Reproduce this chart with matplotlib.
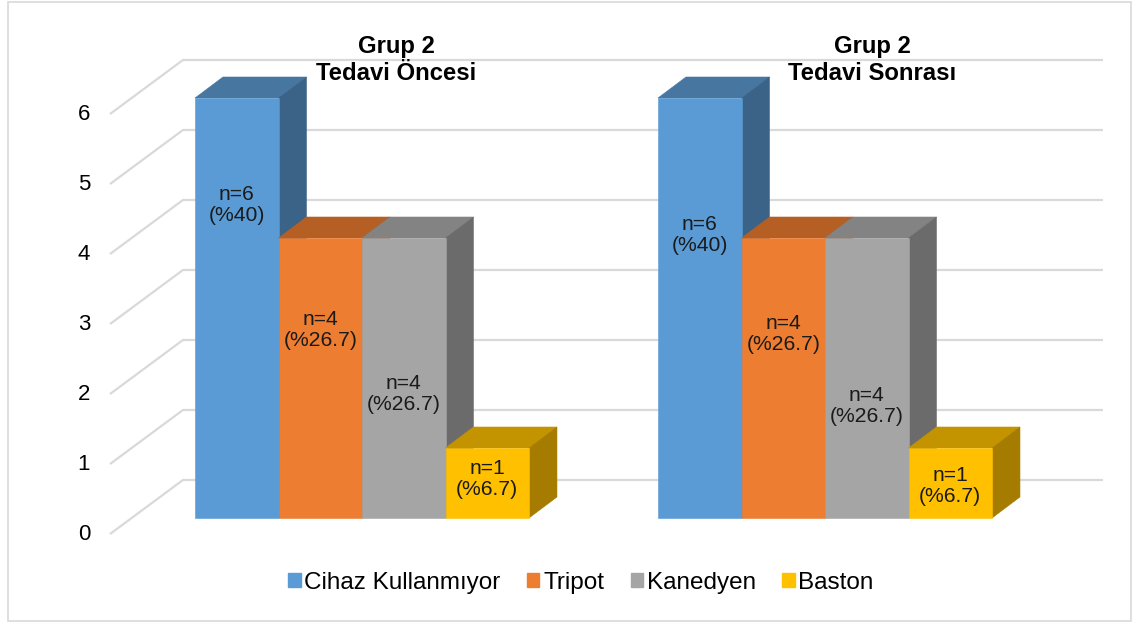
import matplotlib
matplotlib.use("Agg")
import matplotlib.pyplot as plt
from matplotlib.patches import Polygon, Rectangle, Patch

plt.rcParams['font.family'] = ['Liberation Sans', 'DejaVu Sans']

# data
series = ['Cihaz Kullanmıyor', 'Tripot', 'Kanedyen', 'Baston']
groups = ['Grup 2\nTedavi Öncesi', 'Grup 2\nTedavi Sonrası']
counts_pre = [6, 4, 4, 1]
counts_post = [6, 4, 4, 1]
percent_pre = [40, 26.7, 26.7, 6.7]
percent_post = [40, 26.7, 26.7, 6.7]
yticks = [0, 1, 2, 3, 4, 5, 6]

# colours: front, top, side
front = ['#5B9BD5', '#ED7D31', '#A5A5A5', '#FFC000']
top = ['#4776A1', '#B65F24', '#838383', '#C49300']
side = ['#3B6388', '#9A4F1D', '#6B6B6B', '#A67C00']

# layout (units: bar widths on x, values on y)
GAP = 5.545          # distance between the two groups
DX, DY = 0.335, 0.30  # depth of one bar
label_y = [[4.47, 2.69, 1.77, 0.56], [4.04, 2.63, 1.60, 0.46]]
title_x = [2.413, 8.114]

fig = plt.figure(figsize=(11.38, 6.24), dpi=100)
ax = fig.add_axes([0, 0, 1, 1])
ax.set_xlim(-195 / 83.5, (1138 - 195) / 83.5)
ax.set_ylim((518 - 624) / 70, 518 / 70)
ax.axis('off')

# outer frame
fig.patches.append(Rectangle((8 / 1138, 3 / 624), 1123 / 1138, 619 / 624,
                             transform=fig.transFigure, fill=False,
                             edgecolor='#d9d9d9', linewidth=1.2))

# floor-to-wall gridlines in perspective
for v in yticks:
    ax.plot([-1.018, -0.144, 10.874], [v - 0.229, v + 0.543, v + 0.543],
            color='#d9d9d9', lw=1.6, zorder=1, solid_capstyle='butt')
    ax.text(-1.257, v - 0.229, str(v), ha='right', va='center',
            fontsize=16, color='black')

all_counts = [counts_pre, counts_post]
all_pct = [percent_pre, percent_post]

for g in range(2):
    lefts = [g * GAP + i for i in range(len(series))]
    for i, (x0, v) in enumerate(zip(lefts, all_counts[g])):
        z = 2 + i * 0.1
        ax.bar(x0, v, width=1, align='edge', color=front[i],
               edgecolor=front[i], linewidth=0.4, zorder=z + 0.03)
        ax.add_patch(Polygon([(x0, v), (x0 + 1, v), (x0 + 1 + DX, v + DY),
                              (x0 + DX, v + DY)], closed=True,
                             facecolor=top[i], edgecolor=top[i],
                             linewidth=0.4, zorder=z + 0.01))
        ax.add_patch(Polygon([(x0 + 1, 0), (x0 + 1, v), (x0 + 1 + DX, v + DY),
                              (x0 + 1 + DX, DY)], closed=True,
                             facecolor=side[i], edgecolor=side[i],
                             linewidth=0.4, zorder=z + 0.02))
        ax.text(x0 + 0.5, label_y[g][i],
                f"n={v}\n(%{all_pct[g][i]:g})", ha='center', va='center',
                fontsize=15.2, color='#1a1a1a', linespacing=1.15, zorder=5)
    ax.text(title_x[g], 6.54, groups[g], ha='center', va='center',
            fontsize=17.2, fontweight='bold', color='black',
            linespacing=1.22, zorder=5)

handles = [Patch(facecolor=c, edgecolor=c) for c in front]
fig.legend(handles, series, loc='center', ncol=4, frameon=False,
           bbox_to_anchor=(581 / 1138, 1 - 583 / 624), fontsize=17.5,
           handlelength=0.5, handleheight=0.5, handletextpad=0.15,
           columnspacing=1.1)

fig.savefig('out.png', dpi=100)
